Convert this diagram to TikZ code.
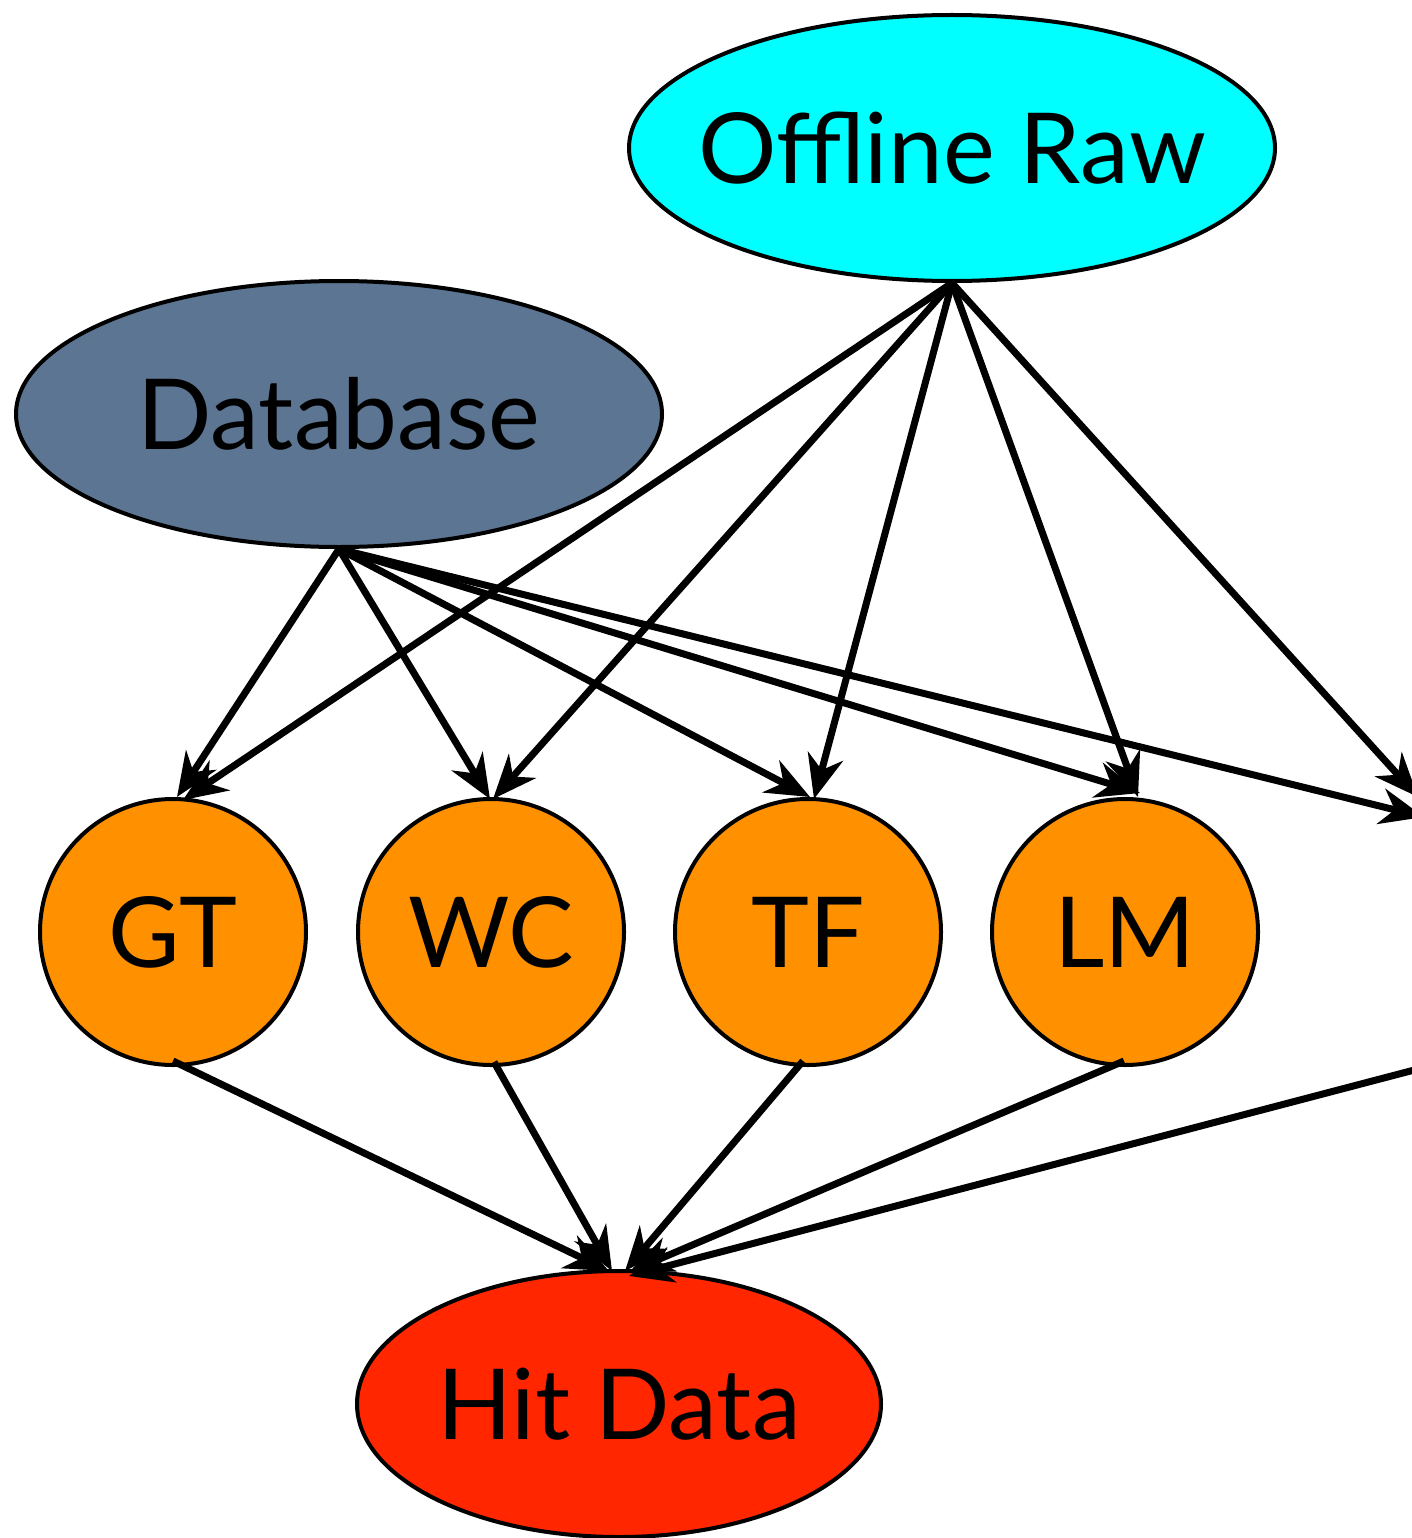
\documentclass[tikz,border=0pt]{standalone}
\usepackage{fontspec}
\setmainfont{Lato}
\usetikzlibrary{arrows.meta,shapes.geometric,calc}
\definecolor{cyanfill}{RGB}{0,255,255}
\definecolor{dbfill}{RGB}{92,117,146}
\definecolor{orangefill}{RGB}{255,145,0}
\definecolor{redfill}{RGB}{255,38,0}
\tikzset{
  bignode/.style={draw=black, line width=4pt, inner sep=0pt, font=\fontsize{98}{110}\selectfont},
  oval/.style={bignode, ellipse, inner xsep=-70pt, inner ysep=-10pt},
  disc/.style={bignode, circle, minimum size=266pt, fill=orangefill},
  edge/.style={line width=7pt, -{Stealth[length=44pt,width=36pt,inset=14pt]}}
}
\begin{document}
\begin{tikzpicture}[x=1pt,y=-1pt]
\useasboundingbox (0,0) rectangle (1411,1538);
\node[oval, fill=cyanfill, minimum width=646pt, minimum height=266pt] (raw) at (952,148) {Offline Raw};
\node[oval, fill=dbfill, minimum width=646pt, minimum height=266pt] (db) at (339,414) {Database};
\node[disc] (gt) at (173,932) {GT};
\node[disc] (wc) at (491,932) {WC};
\node[disc] (tf) at (808,932) {TF};
\node[disc] (lm) at (1125,932) {LM};
\node[oval, fill=redfill, minimum width=524pt, minimum height=266pt] (hit) at (619,1404) {Hit Data};
\coordinate (fifthdb) at (1424,817);
\coordinate (fifthraw) at (1418,797);
\coordinate (fifthout) at (1460,1058);
% from Offline Raw
\draw[edge] (raw.south) -- ([xshift=10pt,yshift=-3pt]gt.north);
\draw[edge] (raw.south) -- ([xshift=2pt,yshift=-2pt]wc.north);
\draw[edge] (raw.south) -- ([xshift=6pt,yshift=-2pt]tf.north);
\draw[edge] (raw.south) -- ([xshift=13pt]lm.north);
\draw[edge] (raw.south) -- (fifthraw);
% from Database
\draw[edge] (db.south) -- ([xshift=4pt]gt.north);
\draw[edge] (db.south) -- ([xshift=-1pt,yshift=-2pt]wc.north);
\draw[edge] (db.south) -- ([xshift=2pt]tf.north);
\draw[edge] (db.south) -- ([xshift=15pt,yshift=4pt]lm.north);
\draw[edge] (db.south) -- (fifthdb);
% to Hit Data
\draw[edge] ([yshift=6pt]gt.south) -- ([xshift=-10pt,yshift=-2pt]hit.north);
\draw[edge] ([xshift=3pt,yshift=5pt]wc.south) -- ([xshift=-7pt,yshift=-2pt]hit.north);
\draw[edge] ([xshift=-5pt,yshift=6pt]tf.south) -- ([xshift=6pt,yshift=-2pt]hit.north);
\draw[edge] ([xshift=-1pt,yshift=6pt]lm.south) -- ([xshift=10pt,yshift=-3pt]hit.north);
\draw[edge] (fifthout) -- ([xshift=10pt,yshift=-7pt]hit.north);
\end{tikzpicture}
\end{document}
